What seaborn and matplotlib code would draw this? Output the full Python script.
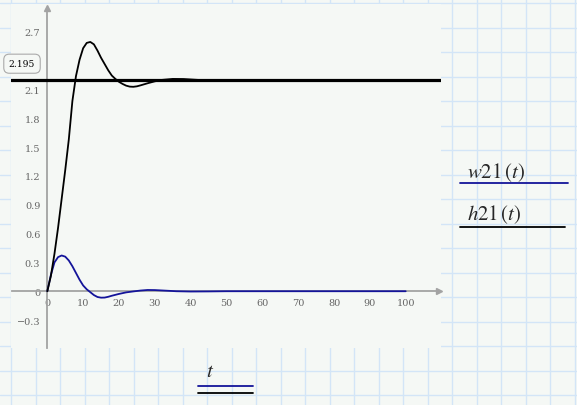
import numpy as np
import pandas as pd
import matplotlib
matplotlib.use("Agg")
import matplotlib.pyplot as plt
import seaborn as sns
from matplotlib.lines import Line2D
import matplotlib.ticker as ticker

# --- data ---
t_h = [0, 1, 2, 3, 4, 5, 6, 7, 8, 9, 10, 11, 12, 13, 14, 15, 16, 17, 18, 19,
       20, 21, 22, 23, 24, 25, 26, 28, 30, 32, 35, 38, 42, 46, 50, 60, 70, 80, 90, 100]
h21 = [0, 0.16, 0.39, 0.66, 0.96, 1.26, 1.58, 1.98, 2.24, 2.41, 2.53, 2.585, 2.595, 2.57,
       2.505, 2.43, 2.365, 2.3, 2.245, 2.21, 2.18, 2.158, 2.14, 2.13, 2.128, 2.133, 2.143,
       2.165, 2.185, 2.2, 2.21, 2.209, 2.2, 2.196, 2.195, 2.195, 2.195, 2.195, 2.195, 2.195]

t_w = [0, 1, 2, 3, 4, 5, 6, 7, 8, 9, 10, 11, 12, 13, 14, 15, 16, 17, 18, 20,
       22, 24, 26, 28, 30, 33, 36, 40, 45, 50, 60, 70, 80, 90, 100]
w21 = [0, 0.17, 0.3, 0.355, 0.372, 0.36, 0.32, 0.26, 0.19, 0.12, 0.06, 0.02, -0.01, -0.04,
       -0.06, -0.067, -0.066, -0.058, -0.047, -0.028, -0.012, -0.002, 0.007, 0.013, 0.012,
       0.006, 0.0, -0.003, -0.002, 0, 0, 0, 0, 0, 0]

marker_value = 2.195
x_ticks = list(range(0, 101, 10))
y_ticks = [-0.3, 0, 0.3, 0.6, 0.9, 1.2, 1.5, 1.8, 2.1, 2.4, 2.7]

df = pd.concat([
    pd.DataFrame({"t": t_w, "value": w21, "trace": "w21"}),
    pd.DataFrame({"t": t_h, "value": h21, "trace": "h21"}),
])

# --- figure ---
sns.set_theme(style="white")
plt.rcParams["mathtext.fontset"] = "stix"
W, H = 577, 406
page = "#f5f8f5"
grid_blue = "#d3e5f7"
axis_grey = "#a3a3a3"
navy = "#14149a"

fig = plt.figure(figsize=(W / 100, H / 100), dpi=100, facecolor=page)

# grid paper behind everything
bg = fig.add_axes([0, 0, 1, 1], zorder=-1)
bg.set_xlim(0, W)
bg.set_ylim(H, 0)
bg.axis("off")
for yy in np.arange(4, H, 24.5):
    bg.axhline(yy, color=grid_blue, lw=1)
for xx in np.arange(11, W, 24.5):
    bg.axvline(xx, color=grid_blue, lw=1)

def fx(px):
    return px / W

def fy(py):
    return 1 - py / H

ax = fig.add_axes([fx(11), fy(349), (441 - 11) / W, (349 - 5) / H], zorder=1)
ax.set_facecolor(page)

sns.lineplot(data=df, x="t", y="value", hue="trace", palette={"w21": navy, "h21": "black"},
             linewidth=1.3, ax=ax, legend=False, sort=False, estimator=None, zorder=4)
ax.axhline(marker_value, color="black", lw=2.3, zorder=5)

ax.set_xlim(-10.13, 109.85)
ax.set_ylim(-0.591, 2.99)
ax.set_xlabel("")
ax.set_ylabel("")

for side in ["top", "right"]:
    ax.spines[side].set_visible(False)
ax.spines["left"].set_position(("data", 0))
ax.spines["bottom"].set_position(("data", 0))
ax.spines["left"].set_bounds(-0.59, 2.93)
ax.spines["bottom"].set_bounds(-9.85, 108.6)
for side in ["left", "bottom"]:
    ax.spines[side].set_color(axis_grey)
    ax.spines[side].set_linewidth(1.3)
    ax.spines[side].set_zorder(2)
ax.plot(109.4, 0, ">", color=axis_grey, ms=5, clip_on=False, zorder=2)
ax.plot(0, 2.95, "^", color=axis_grey, ms=5, clip_on=False, zorder=2)

ax.set_xticks(x_ticks)
ax.set_yticks(y_ticks)
fmt = ticker.FuncFormatter(lambda v, p: f"{v:g}".replace("-", "\u2212"))
ax.xaxis.set_major_formatter(fmt)
ax.yaxis.set_major_formatter(fmt)
ax.tick_params(direction="inout", length=6, width=1, colors=axis_grey,
               labelcolor="#666666", labelsize=7, pad=2)
for lab in ax.get_xticklabels() + ax.get_yticklabels():
    lab.set_fontfamily("DejaVu Serif")

ax.annotate(f"{marker_value}", xy=(0.0256, marker_value), xycoords=("axes fraction", "data"),
            xytext=(0, 12), textcoords="offset points", ha="center", va="center",
            fontsize=6.6, family="DejaVu Serif", color="black",
            bbox=dict(boxstyle="round,pad=0.55,rounding_size=0.6", fc=page, ec="#aaaaaa", lw=0.8),
            zorder=6)

# Mathcad-style trace labels
fig.text(fx(467), fy(178), r"$w21\,(t)$", fontsize=15, ha="left", va="baseline")
fig.add_artist(Line2D([fx(460), fx(568)], [fy(183.5), fy(183.5)], color=navy, lw=1.3))
fig.text(fx(467), fy(220), r"$h21\,(t)$", fontsize=15, ha="left", va="baseline")
fig.add_artist(Line2D([fx(460), fx(565)], [fy(227.5), fy(227.5)], color="black", lw=1.3))

fig.text(fx(210), fy(377), r"$t$", fontsize=15, ha="center", va="baseline")
fig.add_artist(Line2D([fx(198), fx(253)], [fy(387), fy(387)], color=navy, lw=1.3))
fig.add_artist(Line2D([fx(198), fx(253)], [fy(394), fy(394)], color="black", lw=1.3))

fig.savefig("out.png", dpi=100, facecolor=page)
